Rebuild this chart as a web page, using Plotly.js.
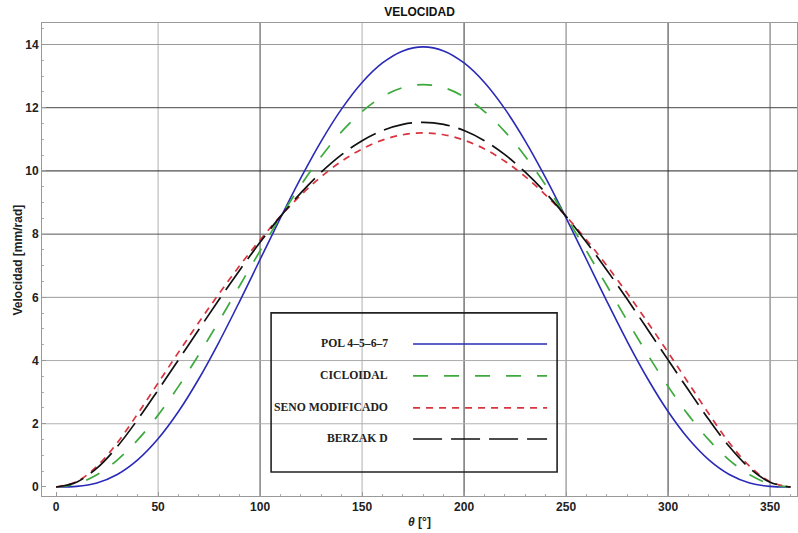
<!DOCTYPE html>
<html>
<head>
<meta charset="utf-8">
<script src="https://cdn.plot.ly/plotly-3.0.1.min.js"></script>
<style>html,body{margin:0;padding:0;background:#fff;}#chart{width:798px;height:533px;}</style>
</head>
<body>
<div id="chart"></div>
<script>
// ---- data ----
var theta = [0,10,20,30,40,50,60,70,80,90,100,110,120,130,140,150,160,170,180,
             190,200,210,220,230,240,250,260,270,280,290,300,310,320,330,340,350,360];
var pol4567 = [0,0.018,0.129,0.397,0.859,1.525,2.388,3.425,4.602,5.875,7.197,8.515,9.781,10.945,11.963,12.798,13.416,13.798,13.926,
               13.798,13.416,12.798,11.963,10.945,9.781,8.515,7.197,5.875,4.602,3.425,2.388,1.525,0.859,0.397,0.129,0.018,0];
var cicloidal = [0,0.097,0.384,0.853,1.489,2.274,3.183,4.189,5.261,6.366,7.471,8.543,9.549,10.458,11.243,11.879,12.348,12.635,12.732,
                 12.635,12.348,11.879,11.243,10.458,9.549,8.543,7.471,6.366,5.261,4.189,3.183,2.274,1.489,0.853,0.384,0.097,0];
var senoMod = [0,0.169,0.655,1.400,2.314,3.289,4.259,5.210,6.128,7.001,7.817,8.566,9.236,9.820,10.308,10.695,10.975,11.145,11.202,
               11.145,10.975,10.695,10.308,9.820,9.236,8.566,7.817,7.001,6.128,5.210,4.259,3.289,2.314,1.400,0.655,0.169,0];
var berzakD = [0,0.153,0.596,1.280,2.133,3.066,4.022,4.985,5.937,6.861,7.741,8.561,9.305,9.960,10.514,10.956,11.277,11.473,11.538,
               11.473,11.277,10.956,10.514,9.960,9.305,8.561,7.741,6.861,5.937,4.985,4.022,3.066,2.133,1.280,0.596,0.153,0];
var seriesNames = ['POL 4\u20135\u20136\u20137', 'CICLOIDAL', 'SENO MODIFICADO', 'BERZAK D'];
var xTicks = [0,50,100,150,200,250,300,350];
var yTicks = [0,2,4,6,8,10,12,14];

// ---- styles ----
var seriesValues = [pol4567, cicloidal, senoMod, berzakD];
var colors = ['#2a2ab8', '#3caa3c', '#d8343f', '#111111'];
var dashes = ['solid', '15px,16px', '7px,6px', '29px,9px'];
var widths = [1.6, 1.7, 1.7, 1.7];

var traces = seriesValues.map(function (v, i) {
  return {x: theta, y: v, type: 'scatter', mode: 'lines', name: seriesNames[i],
          line: {color: colors[i], dash: dashes[i], width: widths[i], shape: 'spline', smoothing: 1}};
});

var shapes = [];
var xGridCol = {50:'#b0b0b0',100:'#444',150:'#b0b0b0',200:'#333',250:'#777',300:'#333',350:'#666'};
var yGridCol = {2:'#b0b0b0',4:'#aaa',6:'#999',8:'#555',10:'#222',12:'#444',14:'#999'};
xTicks.forEach(function (t) { if (t === 0) return;
  shapes.push({type:'line', layer:'below', xref:'x', yref:'paper', x0:t, x1:t, y0:0, y1:1, line:{color:xGridCol[t], width:1}}); });
yTicks.forEach(function (t) { if (t === 0) return;
  shapes.push({type:'line', layer:'below', xref:'paper', yref:'y', x0:0, x1:1, y0:t, y1:t, line:{color:yGridCol[t], width:1}}); });

// manual legend (text on the left, line sample on the right)
shapes.push({type:'rect', xref:'x', yref:'y', x0:105.4, x1:245.6, y0:0.475, y1:5.51,
             line:{color:'#222', width:1.6}, fillcolor:'rgba(0,0,0,0)'});
var rowY = [4.525, 3.513, 2.5, 1.519];
var tickFont = {family:'Liberation Sans, Arial, sans-serif', size:12, weight:'bold', color:'#222'};
var annotations = [];
seriesNames.forEach(function (n, i) {
  shapes.push({type:'line', xref:'x', yref:'y', x0:175, x1:240.7, y0:rowY[i], y1:rowY[i],
               line:{color:colors[i], dash:dashes[i], width:widths[i]}});
  annotations.push({xref:'x', yref:'y', x:163.5, y:rowY[i], xanchor:'right', yanchor:'middle', showarrow:false,
                    text:n, font:{family:'Liberation Serif, Times New Roman, serif', size:11.7, weight:'bold', color:'#222'}});
});
// y axis title placed as an annotation
annotations.push({xref:'paper', yref:'paper', x:-0.0318, y:0.5, xanchor:'center', yanchor:'middle', textangle:-90,
                  showarrow:false, text:'Velocidad [mm/rad]', font:tickFont});

var layout = {
  width: 798, height: 533,
  margin: {l:42, r:1, t:23, b:37},
  paper_bgcolor:'#fff', plot_bgcolor:'#fff',
  showlegend:false,
  title: {text:'VELOCIDAD', x:0.5, xref:'paper', y:0.977, yref:'container', yanchor:'middle',
          font:{family:'Liberation Sans, Arial, sans-serif', size:12, weight:'bold', color:'#111'}},
  xaxis: {range:[-6.9, 363.2], tickvals:xTicks, ticktext:xTicks.map(String), showgrid:false, zeroline:false,
          ticks:'inside', ticklen:4, tickcolor:'#999', showline:true, mirror:true, linecolor:'#999', linewidth:1,
          minor:{ticks:'inside', dtick:10, tick0:0, ticklen:2, tickcolor:'#aaa', showgrid:false},
          tickfont:tickFont,
          title:{text:'<i>\u03b8</i> [\u00b0]', font:tickFont, standoff:4}},
  yaxis: {range:[-0.285, 14.68], tickvals:yTicks, ticktext:yTicks.map(String), showgrid:false, zeroline:false,
          ticks:'inside', ticklen:4, tickcolor:'#999', showline:true, mirror:true, linecolor:'#999', linewidth:1,
          minor:{ticks:'inside', dtick:0.5, tick0:0, ticklen:2, tickcolor:'#aaa', showgrid:false},
          tickfont:tickFont},
  shapes: shapes,
  annotations: annotations
};
Plotly.newPlot('chart', traces, layout, {displayModeBar:false, staticPlot:true});
</script>
</body>
</html>
